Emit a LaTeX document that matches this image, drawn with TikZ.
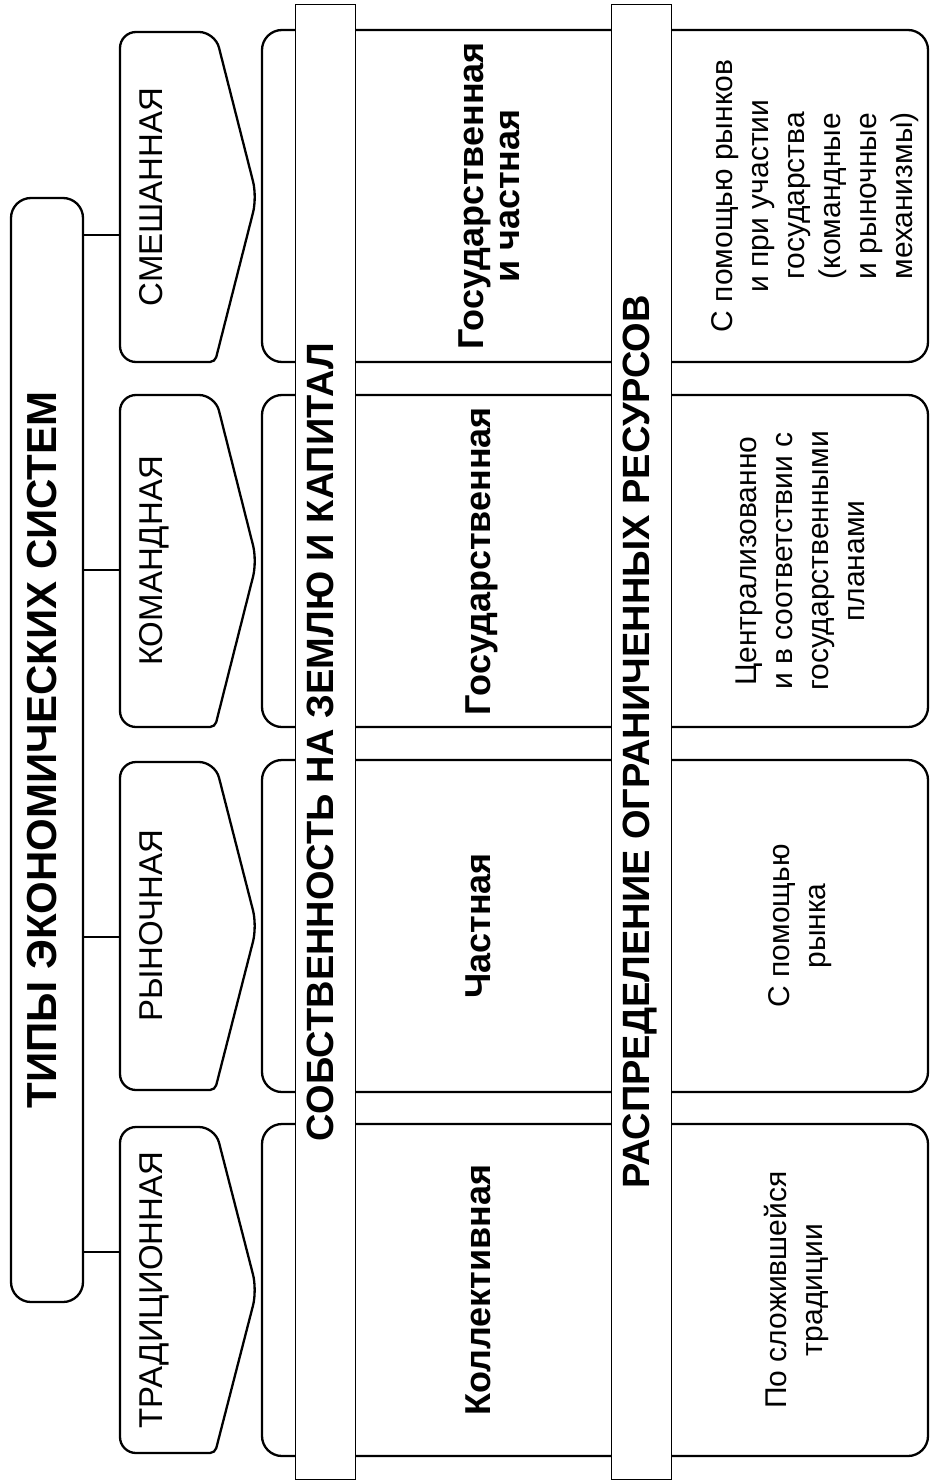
\documentclass[tikz,border=0pt]{standalone}
\usepackage{fontspec}
\setmainfont{Liberation Sans}
\usepackage{graphicx}
\newcommand{\vtext}[1]{\rotatebox{90}{\begin{tabular}{@{}c@{}}#1\end{tabular}}}
\begin{document}
\begin{tikzpicture}[x=1pt, y=-1pt, line width=2.3pt,
title node/.style={draw, rounded corners=20pt, minimum width=72pt, minimum height=1104pt, inner sep=0pt, font=\fontsize{42}{48}\selectfont\bfseries},
type node/.style={minimum width=70pt, inner sep=0pt, font=\fontsize{33}{38}\selectfont},
type shape/.style={rounded corners=16pt},
column node/.style={draw, rounded corners=20pt, minimum width=666pt, minimum height=332pt, inner sep=0pt},
strip node/.style={draw, fill=white, line width=0.8pt, minimum width=60pt, minimum height=1475pt, inner sep=0pt, font=\fontsize{38}{44}\selectfont\bfseries},
own node/.style={inner sep=0pt, font=\fontsize{36}{36}\selectfont\bfseries},
dist node/.style={inner sep=0pt, font=\fontsize{30}{36}\selectfont}]
\useasboundingbox (0,0) rectangle (930,1482);
% title and types
\node[title node] (title) at (47,750) {\vtext{ТИПЫ ЭКОНОМИЧЕСКИХ СИСТЕМ}};
\draw[type shape] (120,1290) -- (120,1127) -- (215,1127) -- (257,1290) [rounded corners=5pt] -- (215,1453) [rounded corners=16pt] -- (120,1453) -- cycle;
\draw[type shape] (120,926) -- (120,762) -- (215,762) -- (257,926) [rounded corners=5pt] -- (215,1090) [rounded corners=16pt] -- (120,1090) -- cycle;
\draw[type shape] (120,561) -- (120,395) -- (215,395) -- (257,561) [rounded corners=5pt] -- (215,727) [rounded corners=16pt] -- (120,727) -- cycle;
\draw[type shape] (120,197) -- (120,32) -- (215,32) -- (257,197) [rounded corners=5pt] -- (215,362) [rounded corners=16pt] -- (120,362) -- cycle;
\node[type node] (t1) at (155,1290) {\vtext{ТРАДИЦИОННАЯ}};
\node[type node] (t2) at (155,926) {\vtext{РЫНОЧНАЯ}};
\node[type node] (t3) at (155,561) {\vtext{КОМАНДНАЯ}};
\node[type node] (t4) at (155,197) {\vtext{СМЕШАННАЯ}};
\draw (title.east |- 0,1252) -- (t1.west |- 0,1252);
\draw (title.east |- 0,937) -- (t2.west |- 0,937);
\draw (title.east |- 0,570) -- (t3.west |- 0,570);
\draw (title.east |- 0,235) -- (t4.west |- 0,235);
% columns
\node[column node] (c1) at (595,1290) {};
\node[column node] (c2) at (595,926) {};
\node[column node] (c3) at (595,561) {};
\node[column node] (c4) at (595,196) {};
\node[strip node] (s1) at (325,742) {\vtext{СОБСТВЕННОСТЬ НА ЗЕМЛЮ И КАПИТАЛ}};
\node[strip node] (s2) at (641,742) {\vtext{РАСПРЕДЕЛЕНИЕ ОГРАНИЧЕННЫХ РЕСУРСОВ}};
\node[own node] (o1) at (483,1290) {\vtext{Коллективная}};
\node[own node] (o2) at (483,926) {\vtext{Частная}};
\node[own node] (o3) at (483,561) {\vtext{Государственная}};
\node[own node] (o4) at (494,196) {\vtext{Государственная\\и частная}};
\node[dist node] (d1) at (797,1290) {\vtext{По сложившейся\\традиции}};
\node[dist node] (d2) at (800,926) {\vtext{С помощью\\рынка}};
\node[dist node] (d3) at (803,561) {\vtext{Централизованно\\и в соответствии с\\государственными\\планами}};
\node[dist node] (d4) at (815,196) {\vtext{С помощью рынков\\и при участии\\государства\\(командные\\и рыночные\\механизмы)}};
\end{tikzpicture}
\end{document}
